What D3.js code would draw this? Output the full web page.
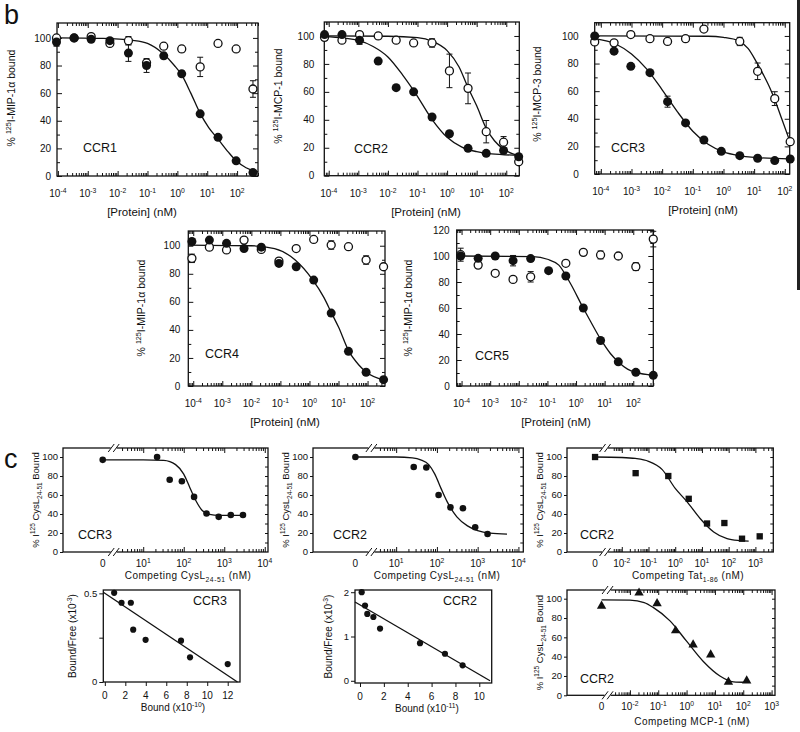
<!DOCTYPE html>
<html>
<head>
<meta charset="utf-8">
<script src="https://cdn.jsdelivr.net/npm/d3@7/dist/d3.min.js"></script>
<style>
  html,body{margin:0;padding:0;background:#fff;}
  svg{display:block;}
  text{font-family:"Liberation Sans",Arial,Helvetica,sans-serif;fill:#111;}
</style>
</head>
<body>
<svg id="fig" width="800" height="732" viewBox="0 0 800 732"></svg>
<script>
// ================= DATA =================
// ---- panel b : competition binding, concentration in nM ----
const bExponents = ['-4','-3','-2','-1','0','1','2'];
const bYLabels100 = [0,20,40,60,80,100];
const bYLabels120 = [0,20,40,60,80,100,120];

const ccr1Conc = [0.00009, 0.00035, 0.0013, 0.0055, 0.023, 0.093, 0.35, 1.4, 5.8, 23, 93, 340];
const ccr1Solid = [97, 100, 99, 98, 89, 80, 87, 74, 45, 28, 11, 2.5];
const ccr1SolidErr = [3, 0, 0, 0, 6, 5, 2, 2, 0, 0, 0, 0];
const ccr1Open = [100, 100, 101, 96, 98, 82, 94, 92, 79, 96, 92, 63];
const ccr1OpenErr = [0, 0, 0, 0, 3, 0, 2, 2, 7, 0, 0, 6];
const ccr1FitLog = [-4.03, -2.5, -1.5, -1, -0.5, -0.1, 0.15, 0.45, 0.76, 1.05, 1.37, 1.7, 1.97, 2.3, 2.7];
const ccr1FitVal = [100, 99.6, 98.2, 96, 89, 80, 73, 60, 45.5, 35, 26.5, 17.5, 11, 6, 3];

const ccr2Conc = [0.000072, 0.00028, 0.0011, 0.0047, 0.019, 0.074, 0.31, 1.2, 5.1, 21, 81, 263];
const ccr2Solid = [101, 101, 97, 82, 63, 60, 42, 30, 19.6, 16, 18, 13.6];
const ccr2SolidErr = [0, 0, 3, 0, 0, 0, 0, 0, 0, 0, 0, 0];
const ccr2Open = [99, 97, 101, 100, 97, 95, 95, 75, 62.5, 31.5, 24, 10];
const ccr2OpenErr = [0, 0, 0, 2, 0, 0, 3, 12, 11, 8, 4, 0];
const ccr2SolidFitLog = [-4.15, -3.5, -3, -2.5, -2, -1.5, -1.1, -0.5, 0, 0.5, 1, 1.5, 2.44];
const ccr2SolidFitVal = [99.5, 98.5, 96.8, 92.5, 85, 72, 60, 40, 27.5, 20.5, 17.2, 15.6, 14.6];
const ccr2OpenFitLog = [-4.15, -2, -1, -0.5, 0, 0.4, 0.71, 1, 1.32, 1.6, 1.91, 2.2, 2.44];
const ccr2OpenFitVal = [100, 99.8, 98.8, 96.2, 89.5, 78, 63, 50, 34, 25, 19, 15.8, 14.2];

const ccr3Conc = [0.000063, 0.00027, 0.00095, 0.004, 0.015, 0.058, 0.23, 0.85, 3.4, 13, 47, 150];
const ccr3Solid = [100, 89, 78, 73.4, 52.4, 37, 24.6, 16.4, 13.3, 11.4, 9.7, 10.9];
const ccr3SolidErr = [0, 0, 0, 0, 4, 0, 0, 0, 0, 0, 0, 0];
const ccr3Open = [95.7, 95, 101, 98, 96, 98, 105, null, 96, 74.4, 54.6, 23.4];
const ccr3OpenErr = [0, 0, 0, 0, 0, 0, 0, 0, 3, 6, 5, 2];
const ccr3SolidFitLog = [-4.2, -3.5, -3, -2.5, -2, -1.5, -1, -0.5, 0, 0.5, 1, 2.16];
const ccr3SolidFitVal = [98, 94, 87, 76, 61, 45, 31, 21.5, 16, 13.3, 12, 11];
const ccr3OpenFitLog = [-4.2, -0.5, 0, 0.5, 0.8, 1.08, 1.3, 1.5, 1.67, 1.9, 2.16];
const ccr3OpenFitVal = [100, 99.8, 99, 96.5, 91, 81, 72, 63, 54, 40, 24];

const ccr4Conc = [0.00009, 0.00036, 0.0014, 0.0056, 0.022, 0.089, 0.35, 1.4, 5.6, 22, 89, 355];
const ccr4Solid = [103, 104, 101.7, 98, 99, 87.4, 85, 75.5, 52, 24.7, 9.8, 4.5];
const ccr4SolidErr = [0, 0, 0, 0, 0, 2, 0, 0, 0, 0, 0, 0];
const ccr4Open = [91, 99, 97, 104, 97.4, 89, 98, 104.5, 100.5, 99.3, 89.8, 85];
const ccr4OpenErr = [3, 0, 0, 0, 0, 2, 0, 0, 3, 0, 3, 0];
const ccr4FitLog = [-4.17, -2, -1.2, -0.5, 0.1, 0.5, 0.76, 1, 1.35, 1.7, 1.95, 2.6];
const ccr4FitVal = [100.5, 100, 98, 90, 76, 63, 52, 42, 25, 15, 10, 4];

const ccr5Conc = [0.000093, 0.00038, 0.0015, 0.0063, 0.026, 0.11, 0.44, 1.8, 7.2, 30, 123, 500];
const ccr5Solid = [100, 98.2, 100, 96.4, 98, 88.7, 84.6, 60, 35, 18.6, 10.5, 8.2];
const ccr5SolidErr = [0, 0, 0, 4, 0, 0, 0, 0, 0, 0, 0, 0];
const ccr5Open = [101, 93, 86.7, 82, 84, null, 94.4, 102.8, 100.8, 100, 91.8, 113];
const ccr5OpenErr = [5, 0, 0, 0, 4, 0, 0, 0, 3, 0, 3, 6];
const ccr5FitLog = [-4.17, -1.5, -1, -0.6, -0.2, 0.25, 0.5, 0.86, 1.2, 1.48, 1.8, 2.09, 2.7];
const ccr5FitVal = [100, 99.5, 97.5, 93, 79, 60, 50, 36, 25, 18.5, 13, 10.5, 8.3];

// ---- panel c : competition with CysL24-51 / Tat / MCP-1 (nM; 0 = no competitor) ----
const cYLabels = [0, 20, 40, 60, 80, 100];
const cysExponents = ['1','2','3','4'];
const tatExponents = ['-2','-1','0','1','2','3'];

const cysCcr3Conc = [0, 22, 45, 90, 180, 365, 730, 1450, 2900];
const cysCcr3Bound = [97, 100, 76, 74.5, 58, 40.5, 37, 39, 39];
const cysCcr3FitConc = [0, 10, 32, 63, 100, 141, 200, 282, 400, 800, 2900];
const cysCcr3FitVal = [97, 97, 96.5, 92, 82, 68, 54, 44, 40, 38.5, 38.5];

const cysCcr2Conc = [0, 27, 55, 110, 215, 435, 870, 1750];
const cysCcr2Bound = [100, 89.5, 89, 60, 47, 46, 26, 19];
const cysCcr2FitConc = [0, 10, 25, 40, 63, 89, 126, 178, 309, 562, 1000, 2000, 5250];
const cysCcr2FitVal = [100, 100, 99, 97, 92, 82, 67, 53, 37, 27.5, 22.5, 19.8, 18.8];

const tatConc = [0, 0.033, 0.55, 3.2, 15.5, 69, 316, 1450];
const tatBound = [100, 83, 80, 56, 30, 30.5, 14, 16.5];
const tatFitConc = [0, 0.01, 0.032, 0.1, 0.32, 1, 2.75, 8.7, 27.5, 87, 250, 560];
const tatFitVal = [100, 99.5, 98.5, 95.5, 87, 67, 53, 35, 21, 14, 12, 11.5];

const mcpConc = [0, 0.021, 0.091, 0.41, 1.7, 7.1, 30, 132];
const mcpBound = [92.5, 106, 95, 67, 52.4, 42, 13.8, 15.1];
const mcpFitConc = [0, 0.01, 0.032, 0.066, 0.26, 1, 3.9, 15, 45, 132];
const mcpFitVal = [98.7, 98.5, 96, 91, 77, 56, 35, 20, 14, 13.5];

// ---- Scatchard plots ----
const scat3Bound = [0.91, 1.63, 2.54, 2.77, 3.98, 7.44, 8.32, 12.0];
const scat3BF = [0.503, 0.447, 0.447, 0.295, 0.238, 0.233, 0.139, 0.101];
const scat3LineBound = [-0.15, 12.95];
const scat3LineBF = [0.506, 0];
const scat3XLabels = [0, 2, 4, 6, 8, 10, 12];
const scat3YTicks = [0, 0.25, 0.5];
const scat3YLabels = ['0', '', '0.5'];

const scat2Bound = [0.14, 0.42, 0.61, 1.12, 1.68, 5.03, 7.12, 8.6];
const scat2BF = [2.0, 1.70, 1.51, 1.44, 1.18, 0.85, 0.61, 0.35];
const scat2LineBound = [-0.42, 10.9];
const scat2LineBF = [1.78, 0];
const scat2XLabels = [0, 2, 4, 6, 8, 10];
const scat2YTicks = [0, 1, 2];
const scat2YLabels = ['0', '1', '2'];

// ================= DRAWING =================
const svg = d3.select('#fig');
svg.append('rect').attr('width', 800).attr('height', 732).attr('fill', '#fff');
const INK = '#111';
const isDecade = t => Math.abs(Math.log10(t) - Math.round(Math.log10(t))) < 1e-6;

function tickAxis(g, axisFn, scale, values, size, tx, ty) {
  const ag = g.append('g').attr('transform', `translate(${tx},${ty})`)
    .call(axisFn(scale).tickValues(values).tickSize(size).tickFormat(() => ''));
  ag.select('.domain').remove();
  ag.selectAll('.tick text').remove();
  ag.selectAll('.tick line').attr('stroke', INK).attr('stroke-width', 1);
  return ag;
}

function rich(g, parts, attrs) {
  const t = g.append('text');
  Object.keys(attrs).forEach(k => t.attr(k, attrs[k]));
  const fs = attrs['font-size'];
  let shift = 0;
  parts.forEach(p => {
    const target = p.sup ? -fs * 0.42 : (p.sub ? fs * 0.3 : 0);
    const ts = t.append('tspan').text(p.t).attr('dy', target - shift);
    if (p.sup || p.sub) ts.attr('font-size', fs * 0.68);
    shift = target;
  });
  return t;
}

function vTitle(g, x, y, parts, fs) {
  rich(g, parts, {'font-size': fs, 'text-anchor': 'middle', 'transform': `translate(${x},${y}) rotate(-90)`, 'dy': '0.35em'});
}

function frame(g, l, t, r, b) {
  g.append('rect').attr('x', l).attr('y', t).attr('width', r - l).attr('height', b - t)
    .attr('fill', 'none').attr('stroke', INK).attr('stroke-width', 1.3);
}

function errBars(g, xs, ys, es, sx, sy) {
  xs.forEach((c, i) => {
    if (ys[i] == null || !es[i]) return;
    const x = sx(c), y1 = sy(ys[i] - es[i]), y2 = sy(ys[i] + es[i]);
    g.append('line').attr('x1', x).attr('x2', x).attr('y1', y1).attr('y2', y2).attr('stroke', INK).attr('stroke-width', 1);
    [y1, y2].forEach(y => g.append('line').attr('x1', x - 3).attr('x2', x + 3).attr('y1', y).attr('y2', y).attr('stroke', INK).attr('stroke-width', 1));
  });
}

// ---------- panel b ----------
function drawB(cfg, d) {
  const g = svg.append('g');
  const sx = d3.scaleLog().domain([Math.pow(10, cfg.logMin), Math.pow(10, cfg.logMax)]).range([cfg.left, cfg.right]);
  const sy = d3.scaleLinear().domain([0, cfg.yMax]).range([cfg.bottom, cfg.top]);
  const all = sx.ticks();
  const maj = all.filter(isDecade), mnr = all.filter(t => !isDecade(t));
  tickAxis(g, d3.axisBottom, sx, maj, -5, 0, cfg.bottom);
  tickAxis(g, d3.axisBottom, sx, mnr, -3, 0, cfg.bottom);
  tickAxis(g, d3.axisTop, sx, maj, -5, 0, cfg.top);
  tickAxis(g, d3.axisTop, sx, mnr, -3, 0, cfg.top);
  const yMaj = cfg.yLabels, yMin = cfg.yLabels.slice(0, -1).map(v => v + 10);
  tickAxis(g, d3.axisLeft, sy, yMaj, -5, cfg.left, 0);
  tickAxis(g, d3.axisLeft, sy, yMin, -3, cfg.left, 0);
  tickAxis(g, d3.axisRight, sy, yMaj, -5, cfg.right, 0);
  tickAxis(g, d3.axisRight, sy, yMin, -3, cfg.right, 0);
  frame(g, cfg.left, cfg.top, cfg.right, cfg.bottom);
  yMaj.forEach(v => g.append('text').attr('x', cfg.left - cfg.gap).attr('y', sy(v)).attr('dy', '0.36em')
    .attr('text-anchor', 'end').attr('font-size', 10).text(v));
  maj.forEach(t => {
    const e = String(Math.round(Math.log10(t)));
    if (bExponents.indexOf(e) < 0) return;
    rich(g, [{t: '10'}, {t: e, sup: true}], {x: sx(t), y: cfg.bottom + 21, 'text-anchor': 'middle', 'font-size': 10});
  });
  g.append('text').attr('x', cfg.xTitleX).attr('y', cfg.bottom + 40).attr('text-anchor', 'middle')
    .attr('font-size', 11.5).text('[Protein] (nM)');
  vTitle(g, cfg.titleX, cfg.titleY, [{t: '% '}, {t: '125', sup: true}, {t: cfg.ylab}], 10.5);
  g.append('text').attr('x', cfg.ccrX).attr('y', cfg.ccrY).attr('font-size', 12.5).text(cfg.name);

  const line = d3.line().x(p => sx(Math.pow(10, p[0]))).y(p => sy(p[1])).curve(d3.curveMonotoneX);
  d.fits.forEach(f => {
    g.append('path').attr('d', line(d3.zip(f[0], f[1]))).attr('fill', 'none').attr('stroke', INK).attr('stroke-width', 1.3);
  });
  errBars(g, d.conc, d.open, d.openErr, sx, sy);
  errBars(g, d.conc, d.solid, d.solidErr, sx, sy);
  d.conc.forEach((c, i) => {
    if (d.open[i] == null) return;
    g.append('circle').attr('cx', sx(c)).attr('cy', sy(d.open[i])).attr('r', 4)
      .attr('fill', '#fff').attr('stroke', INK).attr('stroke-width', 1.3);
  });
  d.conc.forEach((c, i) => {
    if (d.solid[i] == null) return;
    g.append('circle').attr('cx', sx(c)).attr('cy', sy(d.solid[i])).attr('r', 4.5).attr('fill', INK);
  });
}

drawB({name: 'CCR1', left: 57, right: 258, top: 23, bottom: 176, logMin: -4.03, logMax: 2.70, yMax: 110.8,
  yLabels: bYLabels100, gap: 6, titleX: 15, titleY: 98, ylab: 'I-MIP-1\u03b1 bound', ccrX: 83, ccrY: 152, xTitleX: 142},
  {conc: ccr1Conc, solid: ccr1Solid, solidErr: ccr1SolidErr, open: ccr1Open, openErr: ccr1OpenErr,
   fits: [[ccr1FitLog, ccr1FitVal]]});
drawB({name: 'CCR2', left: 324.3, right: 519.3, top: 22, bottom: 175.7, logMin: -4.15, logMax: 2.44, yMax: 110,
  yLabels: bYLabels100, gap: 10, titleX: 282, titleY: 96, ylab: 'I-MCP-1 bound', ccrX: 354, ccrY: 153, xTitleX: 426},
  {conc: ccr2Conc, solid: ccr2Solid, solidErr: ccr2SolidErr, open: ccr2Open, openErr: ccr2OpenErr,
   fits: [[ccr2SolidFitLog, ccr2SolidFitVal], [ccr2OpenFitLog, ccr2OpenFitVal]]});
drawB({name: 'CCR3', left: 594.7, right: 789.7, top: 22.7, bottom: 174, logMin: -4.2, logMax: 2.16, yMax: 109.6,
  yLabels: bYLabels100, gap: 16, titleX: 541, titleY: 94, ylab: 'I-MCP-3 bound', ccrX: 611, ccrY: 152, xTitleX: 703},
  {conc: ccr3Conc, solid: ccr3Solid, solidErr: ccr3SolidErr, open: ccr3Open, openErr: ccr3OpenErr,
   fits: [[ccr3SolidFitLog, ccr3SolidFitVal], [ccr3OpenFitLog, ccr3OpenFitVal]]});
drawB({name: 'CCR4', left: 188.3, right: 385, top: 231, bottom: 386, logMin: -4.17, logMax: 2.6, yMax: 110.5,
  yLabels: bYLabels100, gap: 8, titleX: 145, titleY: 308, ylab: 'I-MIP-1\u03b1 bound', ccrX: 205, ccrY: 358, xTitleX: 285},
  {conc: ccr4Conc, solid: ccr4Solid, solidErr: ccr4SolidErr, open: ccr4Open, openErr: ccr4OpenErr,
   fits: [[ccr4FitLog, ccr4FitVal]]});
drawB({name: 'CCR5', left: 456.7, right: 653.3, top: 230, bottom: 386, logMin: -4.17, logMax: 2.70, yMax: 120,
  yLabels: bYLabels120, gap: 7, titleX: 412, titleY: 308, ylab: 'I-MIP-1\u03b1 bound', ccrX: 475, ccrY: 360, xTitleX: 556},
  {conc: ccr5Conc, solid: ccr5Solid, solidErr: ccr5SolidErr, open: ccr5Open, openErr: ccr5OpenErr,
   fits: [[ccr5FitLog, ccr5FitVal]]});

// ---------- panel c (dose curves with a "0" dose and axis break) ----------
function drawC(cfg, conc, vals, fitC, fitV) {
  const g = svg.append('g');
  const sx = d3.scaleLog().domain([Math.pow(10, cfg.logMin), Math.pow(10, cfg.logMax)]).range([cfg.left, cfg.right]);
  const sy = d3.scaleLinear().domain([0, cfg.yMax]).range([cfg.bottom, cfg.top]);
  const x0 = sx(Math.pow(10, cfg.zeroLog));
  const X = c => (c === 0 ? x0 : sx(c));
  const all = sx.ticks().filter(t => Math.log10(t) >= cfg.tickStart - 1e-9);
  const maj = all.filter(isDecade), mnr = all.filter(t => !isDecade(t));
  tickAxis(g, d3.axisBottom, sx, maj, -5, 0, cfg.bottom);
  tickAxis(g, d3.axisBottom, sx, mnr, -3, 0, cfg.bottom);
  tickAxis(g, d3.axisTop, sx, maj, -5, 0, cfg.top);
  tickAxis(g, d3.axisTop, sx, mnr, -3, 0, cfg.top);
  tickAxis(g, d3.axisLeft, sy, cYLabels, 3, cfg.left, 0);
  tickAxis(g, d3.axisRight, sy, d3.range(10, 101, 10), -3, cfg.right, 0);
  frame(g, cfg.left, cfg.top, cfg.right, cfg.bottom);
  const bx = x0 + cfg.breakOff;
  [cfg.bottom, cfg.top].forEach(yy => {
    g.append('rect').attr('x', bx - 3).attr('y', yy - 2).attr('width', 6).attr('height', 4).attr('fill', '#fff');
    [-2.5, 2.5].forEach(o => g.append('line').attr('x1', bx + o - 3).attr('y1', yy + 4)
      .attr('x2', bx + o + 3).attr('y2', yy - 4).attr('stroke', INK).attr('stroke-width', 1));
  });
  cYLabels.forEach(v => g.append('text').attr('x', cfg.left - 5).attr('y', sy(v)).attr('dy', '0.36em')
    .attr('text-anchor', 'end').attr('font-size', 9.5).text(v));
  g.append('text').attr('x', x0).attr('y', cfg.bottom + 15).attr('text-anchor', 'middle').attr('font-size', 10).text('0');
  maj.forEach(t => {
    const e = String(Math.round(Math.log10(t)));
    if (cfg.exps.indexOf(e) < 0) return;
    rich(g, [{t: '10'}, {t: e, sup: true}], {x: sx(t), y: cfg.bottom + 15, 'text-anchor': 'middle', 'font-size': 10});
  });
  rich(g, cfg.xTitle, {x: cfg.xTitleX, y: cfg.xTitleY, 'text-anchor': 'middle', 'font-size': 10, 'letter-spacing': 0.5});
  vTitle(g, cfg.left - 24, (cfg.top + cfg.bottom) / 2,
    [{t: '% I'}, {t: '125', sup: true}, {t: ' CysL'}, {t: '24-51', sub: true}, {t: ' Bound'}], 9.5);
  g.append('text').attr('x', cfg.ccrX).attr('y', cfg.ccrY).attr('font-size', 12.5).text(cfg.name);

  const line = d3.line().x(p => X(p[0])).y(p => sy(p[1])).curve(d3.curveMonotoneX);
  g.append('path').attr('d', line(d3.zip(fitC, fitV))).attr('fill', 'none').attr('stroke', INK).attr('stroke-width', 1.3);
  const sym = cfg.marker === 'square' ? d3.symbol(d3.symbolSquare, 40)
            : cfg.marker === 'triangle' ? d3.symbol(d3.symbolTriangle, 38) : d3.symbol(d3.symbolCircle, 34);
  conc.forEach((c, i) => {
    g.append('path').attr('d', sym()).attr('transform', `translate(${X(c)},${sy(vals[i])})`).attr('fill', INK);
  });
}

const cysTitle = [{t: 'Competing CysL'}, {t: '24-51', sub: true}, {t: ' (nM)'}];
drawC({name: 'CCR3', left: 63, right: 268, top: 448, bottom: 552, logMin: -0.98, logMax: 4.08, zeroLog: 0,
  tickStart: 0.45, breakOff: 11, yMax: 109.5, exps: cysExponents, xTitle: cysTitle, xTitleX: 188, xTitleY: 579,
  ccrX: 78, ccrY: 539, marker: 'circle'}, cysCcr3Conc, cysCcr3Bound, cysCcr3FitConc, cysCcr3FitVal);
drawC({name: 'CCR2', left: 313, right: 523.3, top: 448, bottom: 552, logMin: -1.04, logMax: 4.12, zeroLog: 0,
  tickStart: 0.55, breakOff: 16, yMax: 109.5, exps: cysExponents, xTitle: cysTitle, xTitleX: 437, xTitleY: 579,
  ccrX: 333, ccrY: 539, marker: 'circle'}, cysCcr2Conc, cysCcr2Bound, cysCcr2FitConc, cysCcr2FitVal);
drawC({name: 'CCR2', left: 567, right: 773.3, top: 448, bottom: 552, logMin: -4.05, logMax: 3.67, zeroLog: -3,
  tickStart: -2.32, breakOff: 10, yMax: 109.5, exps: tatExponents,
  xTitle: [{t: 'Competing Tat'}, {t: '1-86', sub: true}, {t: ' (nM)'}], xTitleX: 688, xTitleY: 579,
  ccrX: 580, ccrY: 539, marker: 'square'}, tatConc, tatBound, tatFitConc, tatFitVal);
drawC({name: 'CCR2', left: 567, right: 775, top: 590, bottom: 695.3, logMin: -4.22, logMax: 3.12, zeroLog: -3,
  tickStart: -2.55, breakOff: 6, yMax: 109, exps: tatExponents,
  xTitle: [{t: 'Competing MCP-1 (nM)'}], xTitleX: 692, xTitleY: 725,
  ccrX: 580, ccrY: 683, marker: 'triangle'}, mcpConc, mcpBound, mcpFitConc, mcpFitVal);

// ---------- Scatchard plots ----------
function drawScat(cfg, bx, bf, lx, ly, xLabels, yTicks, yLabels) {
  const g = svg.append('g');
  const sx = d3.scaleLinear().domain(cfg.xDom).range([cfg.left, cfg.right]);
  const sy = d3.scaleLinear().domain(cfg.yDom).range([cfg.bottom, cfg.top]);
  tickAxis(g, d3.axisBottom, sx, xLabels, 4, 0, cfg.bottom);
  tickAxis(g, d3.axisLeft, sy, yTicks, 4, cfg.left, 0);
  frame(g, cfg.left, cfg.top, cfg.right, cfg.bottom);
  xLabels.forEach(v => g.append('text').attr('x', sx(v)).attr('y', cfg.bottom + 17).attr('text-anchor', 'middle')
    .attr('font-size', 10).text(v));
  yTicks.forEach((v, i) => g.append('text').attr('x', cfg.left - 6).attr('y', sy(v)).attr('dy', '0.36em')
    .attr('text-anchor', 'end').attr('font-size', 9.5).text(yLabels[i]));
  rich(g, [{t: 'Bound (x10'}, {t: cfg.xExp, sup: true}, {t: ')'}],
    {x: cfg.xTitleX, y: cfg.bottom + 29, 'text-anchor': 'middle', 'font-size': 10});
  vTitle(g, cfg.titleX, (cfg.top + cfg.bottom) / 2, [{t: 'Bound/Free (x10'}, {t: '-3', sup: true}, {t: ')'}], 10);
  g.append('text').attr('x', cfg.ccrX).attr('y', cfg.ccrY).attr('font-size', 12.5).text(cfg.name);
  const line = d3.line().x(p => sx(p[0])).y(p => sy(p[1]));
  g.append('path').attr('d', line(d3.zip(lx, ly))).attr('fill', 'none').attr('stroke', INK).attr('stroke-width', 1.3);
  bx.forEach((v, i) => g.append('circle').attr('cx', sx(v)).attr('cy', sy(bf[i])).attr('r', 3.1).attr('fill', INK));
}

drawScat({name: 'CCR3', left: 103.3, right: 240, top: 590, bottom: 682, xDom: [-0.15, 13.2], yDom: [0, 0.519],
  xExp: '-10', xTitleX: 173, titleX: 76, ccrX: 193, ccrY: 605},
  scat3Bound, scat3BF, scat3LineBound, scat3LineBF, scat3XLabels, scat3YTicks, scat3YLabels);
drawScat({name: 'CCR2', left: 355, right: 491.7, top: 590, bottom: 683, xDom: [-0.42, 11.04], yDom: [-0.05, 2.05],
  xExp: '-11', xTitleX: 427, titleX: 332, ccrX: 443, ccrY: 605},
  scat2Bound, scat2BF, scat2LineBound, scat2LineBF, scat2XLabels, scat2YTicks, scat2YLabels);

// ---------- panel letters and scan edge ----------
svg.append('text').attr('x', 4).attr('y', 24).attr('font-size', 27).text('b');
svg.append('text').attr('x', 4).attr('y', 468).attr('font-size', 27).text('c');
svg.append('rect').attr('x', 797).attr('y', 0).attr('width', 3).attr('height', 290).attr('fill', '#222');
</script>
</body>
</html>
